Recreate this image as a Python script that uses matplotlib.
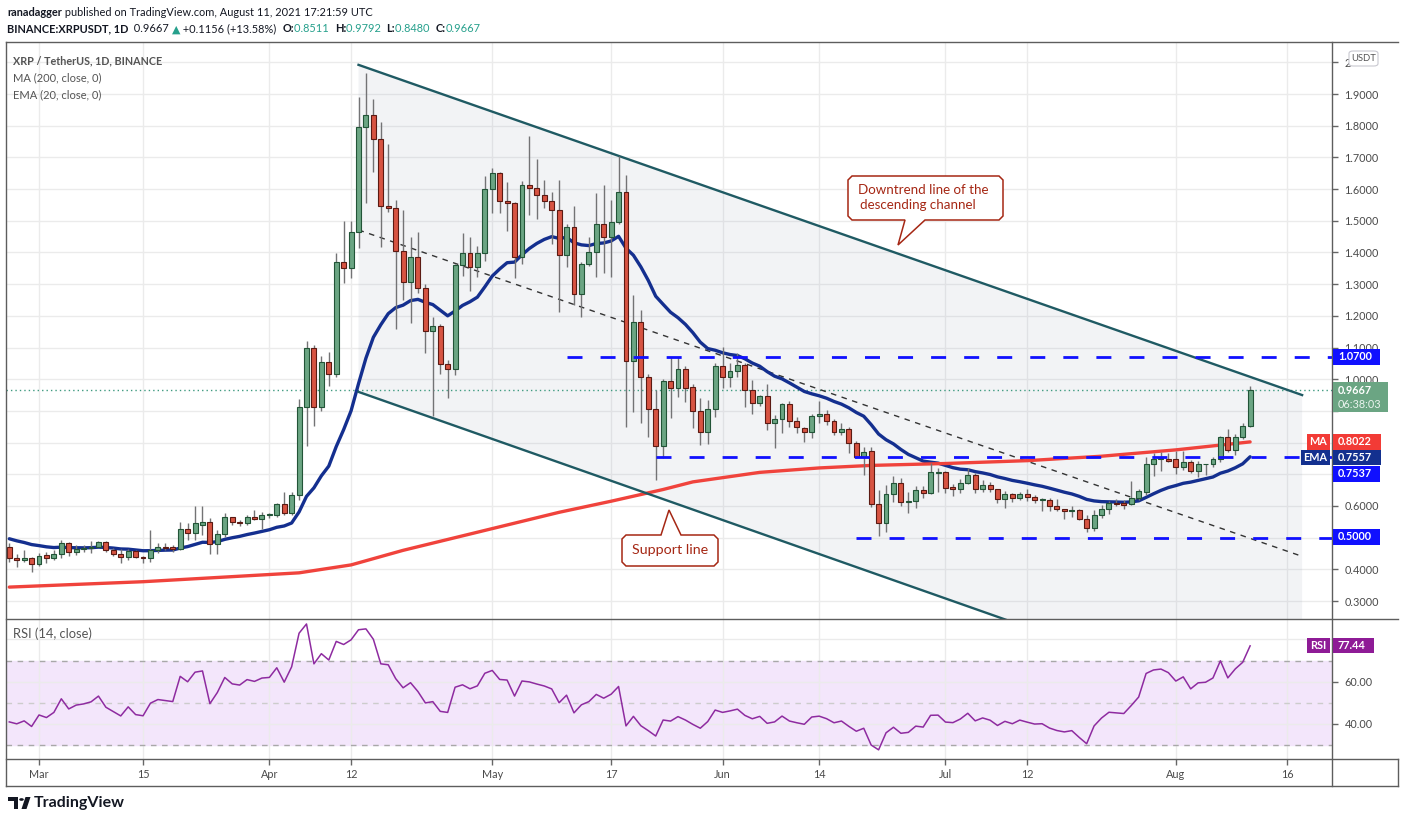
import datetime as dt
import numpy as np
import matplotlib
matplotlib.use("Agg")
import matplotlib.pyplot as plt
import matplotlib.font_manager as fm
from matplotlib.patches import Polygon, Rectangle, FancyBboxPatch, Circle
from matplotlib.lines import Line2D
from matplotlib.ticker import FuncFormatter

W, H = 1401, 823
avail = {f.name for f in fm.fontManager.ttflist}
FONT = next((f for f in ['Lato', 'Roboto', 'Noto Sans'] if f in avail), 'DejaVu Sans')
plt.rcParams['font.family'] = [FONT, 'DejaVu Sans']
plt.rcParams['lines.scale_dashes'] = False

# ---------------- data (daily XRP/USDT, from 2021-02-25) ----------------
first_day = dt.date(2021, 2, 25)

opens = [
    .469, .435, .428, .435,
    .416, .444, .435, .447, .482, .454, .464, .467, .472, .486, .460, .450, .438, .457, .438, .435,
    .461, .469, .469, .465, .526, .516, .541, .549, .479, .511, .564, .549, .545, .564, .560,
    .571, .573, .606, .577, .634, .913, 1.097, .913, 1.055, 1.018, 1.371, 1.350, 1.465, 1.797, 1.834,
    1.757, 1.548, 1.539, 1.406, 1.308, 1.385, 1.289, 1.153, 1.169, 1.049, 1.033, 1.361, 1.399, 1.355, 1.397,
    1.599, 1.650, 1.561, 1.555, 1.387, 1.612, 1.602, 1.580, 1.561, 1.533, 1.391, 1.479, 1.268, 1.362, 1.400,
    1.489, 1.448, 1.495, 1.591, 1.057, 1.180, 1.006, .905, .789, .993, .973, 1.031, .974, .899, .832, .905,
    1.041, 1.008, 1.025, 1.044, .967, .924, .946, .861, .873, .921, .867, .845, .832, .883, .889,
    .867, .832, .842, .798, .756, .772, .605, .545, .638, .671, .611, .616, .650, .642, .705,
    .706, .659, .654, .671, .698, .652, .665, .652, .621, .637, .624, .637, .627, .618, .619,
    .599, .589, .583, .587, .558, .529, .571, .592, .610, .608, .605, .624, .643, .731, .749, .749,
    .747, .724, .739, .711, .731, .733, .747, .817, .777, .817, .8511,
]
highs = [
    .482, .450, .461, .440,
    .452, .456, .461, .493, .487, .476, .476, .490, .489, .489, .466, .464, .464, .461, .442, .524,
    .484, .482, .477, .550, .545, .600, .600, .561, .524, .577, .566, .556, .571, .587, .582,
    .577, .608, .645, .643, .939, 1.120, 1.108, 1.073, 1.085, 1.399, 1.498, 1.498, 1.892, 1.965, 1.884,
    1.812, 1.742, 1.565, 1.534, 1.450, 1.466, 1.300, 1.195, 1.175, 1.060, 1.365, 1.460, 1.448, 1.420, 1.641,
    1.665, 1.655, 1.622, 1.560, 1.624, 1.768, 1.694, 1.629, 1.592, 1.629, 1.490, 1.547, 1.370, 1.448, 1.589,
    1.613, 1.565, 1.704, 1.644, 1.266, 1.218, 1.016, .966, 1.000, 1.071, 1.071, 1.042, .985, .940, .934, 1.050,
    1.103, 1.050, 1.082, 1.050, .997, .950, .985, .887, .924, .930, .880, .848, .890, .931, .903,
    .873, .861, .848, .806, .785, .785, .650, .666, .694, .687, .645, .663, .663, .735, .719,
    .710, .669, .684, .721, .703, .682, .677, .652, .648, .640, .645, .655, .635, .624, .624,
    .621, .592, .600, .589, .571, .587, .603, .617, .621, .619, .679, .655, .753, .768, .771, .768,
    .774, .773, .745, .742, .734, .753, .821, .842, .827, .863, .9792,
]
lows = [
    .424, .408, .424, .393,
    .410, .421, .430, .435, .442, .445, .456, .453, .470, .456, .442, .421, .430, .435, .421, .424,
    .453, .461, .456, .461, .493, .493, .508, .450, .450, .503, .540, .537, .540, .556, .526,
    .561, .566, .572, .571, .619, .789, .852, .900, .979, 1.006, 1.305, 1.318, 1.415, 1.557, 1.653,
    1.418, 1.529, 1.160, 1.250, 1.178, 1.273, 1.083, .884, 1.018, .942, 1.013, 1.326, 1.279, 1.324, 1.374,
    1.523, 1.523, 1.469, 1.318, 1.365, 1.518, 1.505, 1.539, 1.427, 1.213, 1.355, 1.234, 1.197, 1.358, 1.321,
    1.336, 1.324, 1.490, .850, .897, .863, .817, .682, .750, .879, .945, .928, .845, .791, .797, .880,
    .973, .976, 1.008, .913, .890, .916, .840, .782, .829, .848, .831, .803, .815, .861, .856,
    .824, .824, .768, .750, .698, .598, .506, .519, .613, .600, .579, .595, .624, .638, .645,
    .642, .633, .642, .668, .642, .645, .645, .610, .593, .611, .619, .617, .608, .585, .585,
    .585, .560, .566, .556, .519, .521, .563, .575, .600, .589, .603, .619, .635, .696, .711, .738,
    .700, .713, .703, .692, .699, .722, .740, .771, .761, .810, .8480,
]
closes = [
    .435, .428, .435, .416,
    .443, .435, .447, .482, .454, .464, .467, .472, .486, .460, .449, .438, .457, .438, .435, .461,
    .469, .467, .465, .526, .516, .545, .549, .479, .511, .564, .548, .545, .564, .560, .571,
    .573, .606, .577, .635, .913, 1.097, .913, 1.055, 1.018, 1.371, 1.350, 1.465, 1.797, 1.834, 1.757,
    1.548, 1.539, 1.406, 1.308, 1.385, 1.289, 1.153, 1.169, 1.047, 1.033, 1.361, 1.399, 1.355, 1.397, 1.599,
    1.650, 1.561, 1.555, 1.387, 1.612, 1.602, 1.580, 1.561, 1.533, 1.391, 1.479, 1.268, 1.362, 1.400, 1.489,
    1.448, 1.495, 1.591, 1.057, 1.180, 1.006, .905, .789, .993, .973, 1.031, .973, .899, .832, .905, 1.041,
    1.008, 1.025, 1.044, .967, .924, .946, .861, .873, .921, .867, .848, .832, .883, .889, .867,
    .832, .842, .798, .756, .771, .605, .545, .638, .671, .611, .616, .650, .642, .706, .707,
    .658, .654, .671, .698, .652, .665, .652, .621, .637, .624, .637, .627, .618, .619, .600,
    .589, .583, .586, .558, .529, .571, .592, .608, .606, .604, .624, .647, .731, .747, .751, .743,
    .724, .739, .711, .731, .733, .747, .817, .777, .817, .851, .9667,
]

# indicator inputs
ema_seed = 0.503            # EMA(20) value just before the first visible day
prev_close = 0.469          # close of the day before the first visible day
rsi_seed_gain = 0.0105
rsi_seed_loss = 0.0125

ma_dates = ['2021-02-25', '2021-03-15', '2021-04-05', '2021-04-12', '2021-04-19', '2021-04-26',
            '2021-05-03', '2021-05-10', '2021-05-17', '2021-05-24', '2021-05-28', '2021-06-06',
            '2021-06-14', '2021-06-21', '2021-07-01', '2021-07-12', '2021-07-22', '2021-08-01',
            '2021-08-11']
ma_values = [0.344, 0.361, 0.389, 0.414, 0.460, 0.500, 0.540, 0.580, 0.615, 0.652, 0.676, 0.706,
             0.720, 0.728, 0.734, 0.743, 0.757, 0.777, 0.8022]

channel_dates = ['2021-04-13', '2021-08-18']
channel_upper = [1.992, 0.950]
channel_lower = [0.960, -0.088]
trend_dates = ['2021-04-13', '2021-08-18']
trend_values = [1.471, 0.441]

level_values = [1.07, 0.7537, 0.50]
level_starts = ['2021-05-11', '2021-05-23', '2021-06-19']

tick_dates = ['2021-03-01', '2021-03-15', '2021-04-01', '2021-04-12', '2021-05-01', '2021-05-17',
              '2021-06-01', '2021-06-14', '2021-07-01', '2021-07-12', '2021-08-01', '2021-08-16']
tick_labels = ['Mar', '15', 'Apr', '12', 'May', '17', 'Jun', '14', 'Jul', '12', 'Aug', '16']
price_ticks = [0.3, 0.4, 0.5, 0.6, 0.7, 0.8, 0.9, 1.0, 1.1, 1.2, 1.3, 1.4, 1.5, 1.6, 1.7, 1.8, 1.9, 2.0]
covered_price_ticks = [0.5, 0.7, 0.8, 0.9]   # labels hidden behind the value boxes
rsi_ticks = [40, 60, 80]
covered_rsi_ticks = [80]

last_price = 0.9667
ma_last, ema_last, rsi_last = 0.8022, 0.7557, 77.44

# ---------------- helpers ----------------
def day_index(s):
    return (dt.date.fromisoformat(s) - first_day).days

n = len(closes)
xs = np.arange(n)
o, h, l, c = map(np.array, (opens, highs, lows, closes))

fig = plt.figure(figsize=(W / 100, H / 100), dpi=100)
fig.patch.set_facecolor('white')


def fx(px):
    return px / W


def fy(py):
    return 1 - py / H


X0_PX, DAY_PX = 9.3, 7.43
L, R = 6, 1332
TOP, SEP1, SEP2, BOT = 42, 619, 759, 786


def px_to_idx(px):
    return (px - X0_PX) / DAY_PX


def price_at(py):
    return 1.9 - (py - 94) / 316.9


def rsi_at(py):
    return 40 + (724 - py) / 2.115


ax = fig.add_axes([fx(L), fy(SEP1), fx(R) - fx(L), fy(TOP) - fy(SEP1)])
axr = fig.add_axes([fx(L), fy(SEP2), fx(R) - fx(L), fy(SEP1) - fy(SEP2)])
xlim = (px_to_idx(L), px_to_idx(R))
ax.set_xlim(xlim)
axr.set_xlim(xlim)
ax.set_ylim(price_at(SEP1), price_at(TOP))
axr.set_ylim(rsi_at(SEP2), rsi_at(SEP1))

tick_pos = [day_index(d) for d in tick_dates]
for a in (ax, axr):
    for s in a.spines.values():
        s.set_visible(False)
    a.set_xticks(tick_pos)
    a.yaxis.tick_right()
    a.grid(True, color='#ebebeb', lw=1)
    a.set_axisbelow(True)
    a.tick_params(axis='y', length=4, width=1, color='#666666', labelcolor='#4a4a4a',
                  labelsize=7.8, pad=5, direction='out')
ax.tick_params(axis='x', length=0, labelbottom=False)
axr.set_xticklabels(tick_labels)
axr.tick_params(axis='x', length=4, width=1, color='#666666', labelcolor='#4a4a4a',
                labelsize=7.8, pad=3, direction='out')
ax.set_yticks(price_ticks)


def price_fmt(v, p):
    if any(abs(v - t) < 1e-9 for t in covered_price_ticks):
        return ''
    return '2' if abs(v - 2) < 1e-9 else f'{v:.4f}'


ax.yaxis.set_major_formatter(FuncFormatter(price_fmt))
axr.set_yticks(rsi_ticks)
axr.yaxis.set_major_formatter(FuncFormatter(
    lambda v, p: '' if any(abs(v - t) < 1e-9 for t in covered_rsi_ticks) else f'{v:.2f}'))

# ---------------- main pane ----------------
cx = [day_index(d) for d in channel_dates]
ax.add_patch(Polygon([(cx[0], channel_upper[0]), (cx[1], channel_upper[1]),
                      (cx[1], channel_lower[1]), (cx[0], channel_lower[0])], closed=True,
                     fc=(0.55, 0.6, 0.68, 0.11), ec='none', zorder=1))
ax.plot(cx, channel_upper, color='#1f5a63', lw=1.7, zorder=3.5)
ax.plot(cx, channel_lower, color='#1f5a63', lw=1.7, zorder=3.5)
ax.plot([day_index(d) for d in trend_dates], trend_values, color='#333333', lw=1,
        ls=(0, (4, 4)), zorder=2.5)

ax.axhline(last_price, color='#3f9a80', lw=1, ls=(0, (1, 2.2)), zorder=2)

# moving averages
ema = []
e = ema_seed
for v in closes:
    e += (v - e) * 2 / 21
    ema.append(e)
ax.plot(xs, ema, color='#142f8f', lw=2.4, zorder=3, solid_capstyle='round')
ax.plot([day_index(d) for d in ma_dates], ma_values, color='#f0433c', lw=2.4, zorder=3,
        solid_capstyle='round')

# candles
up = c >= o
ax.vlines(xs, l, h, color='#737375', lw=1, zorder=4)
body_lo = np.minimum(o, c)
body_h = np.maximum(np.abs(c - o), 0.0025)
ax.bar(xs[up], body_h[up], bottom=body_lo[up], width=0.66, color='#6ba583',
       edgecolor='#225437', lw=0.8, zorder=5)
ax.bar(xs[~up], body_h[~up], bottom=body_lo[~up], width=0.66, color='#d75442',
       edgecolor='#5b1a13', lw=0.8, zorder=5)

# horizontal levels
for lvl, st in zip(level_values, level_starts):
    ax.plot([day_index(st), xlim[1]], [lvl, lvl], color='#1010ff', lw=2.0,
            ls=(0, (10.8, 13)), zorder=7, solid_capstyle='butt', dash_capstyle='butt')

# ---------------- RSI pane ----------------
ag, al = rsi_seed_gain, rsi_seed_loss
pc = prev_close
rsi = []
for v in closes:
    ch = v - pc
    ag = (ag * 13 + max(ch, 0)) / 14
    al = (al * 13 + max(-ch, 0)) / 14
    rsi.append(100 - 100 / (1 + ag / al))
    pc = v
axr.axhspan(30, 70, color='#f3e6fb', zorder=0.3)
axr.axhline(70, color='#a8a8a8', lw=1, ls=(0, (4, 4)), zorder=1)
axr.axhline(50, color='#cccccc', lw=1, ls=(0, (4, 4)), zorder=1)
axr.axhline(30, color='#a8a8a8', lw=1, ls=(0, (4, 4)), zorder=1)
axr.plot(xs, rsi, color='#8e2ba0', lw=1.1, zorder=3)

# ---------------- frame ----------------
FR = '#5d5d5d'


def hline(y, x0, x1):
    fig.add_artist(Line2D([fx(x0), fx(x1)], [fy(y), fy(y)], color=FR, lw=1, zorder=4))


def vline(x, y0, y1):
    fig.add_artist(Line2D([fx(x), fx(x)], [fy(y0), fy(y1)], color=FR, lw=1, zorder=4))


hline(TOP, L, 1398)
hline(SEP1, L, 1398)
hline(SEP2, L, 1398)
hline(BOT, L, 1398)
vline(L, TOP, BOT)
vline(R, TOP, BOT)
vline(1398, SEP2, BOT)

# ---------------- right-axis labels ----------------


def box(x0, x1, y0, y1, color):
    fig.add_artist(Rectangle((fx(x0), fy(y1)), fx(x1) - fx(x0), (y1 - y0) / H,
                             transform=fig.transFigure, fc=color, ec='none', zorder=5))


def btext(x, y, s, color='white', weight='bold', size=7.8, ha='left'):
    fig.text(fx(x), fy(y), s, color=color, fontsize=size, fontweight=weight,
             va='center', ha=ha, zorder=6)


BLUE = '#1010ff'
box(1333, 1380, 349, 365, BLUE); btext(1338, 357, f'{level_values[0]:.4f}')
box(1333, 1388, 382, 412, '#6ba583'); btext(1338, 390, f'{last_price:.4f}')
btext(1338, 404, '06:38:03', color='#eaf4ee', weight='normal')
box(1307, 1330, 434, 450, '#f23b36'); btext(1318.5, 442, 'MA', ha='center')
box(1333, 1381, 434, 450, '#f23b36'); btext(1338, 442, f'{ma_last:.4f}')
box(1301, 1330, 450, 465, '#13308f'); btext(1315.5, 457.5, 'EMA', ha='center')
box(1333, 1381, 450, 465, '#13308f'); btext(1338, 457.5, f'{ema_last:.4f}')
box(1333, 1380, 466, 482, BLUE); btext(1338, 474, f'{level_values[1]:.4f}')
box(1333, 1380, 529, 545, BLUE); btext(1338, 537, f'{level_values[2]:.4f}')
box(1307, 1330, 638, 653, '#8e1b96'); btext(1318.5, 645.5, 'RSI', ha='center')
box(1333, 1374, 638, 653, '#8e1b96'); btext(1338, 645.5, f'{rsi_last:.2f}')
fig.add_artist(FancyBboxPatch((fx(1349), fy(66)), fx(1378) - fx(1349), 15 / H,
                              boxstyle='round,pad=0,rounding_size=0.003',
                              transform=fig.transFigure, fc='white', ec='#c8c8d0', lw=0.8, zorder=5))
btext(1363.5, 58.5, 'USDT', color='#555555', weight='normal', size=6.8, ha='center')

# ---------------- texts ----------------
renderer = fig.canvas.get_renderer()


def fit(s, x0, x1, yc, color, weight='normal', base=9.0, ha='left'):
    t = fig.text(fx(x0 if ha == 'left' else (x0 + x1) / 2), fy(yc), s, color=color,
                 fontsize=base, fontweight=weight, va='center', ha=ha, zorder=7)
    wpx = t.get_window_extent(renderer).width
    if wpx > 0:
        t.set_fontsize(base * (x1 - x0) / wpx)
    return t


def seq(parts, x0, yc, size):
    """place text pieces one after another on one line"""
    x = x0
    for s, color, weight in parts:
        t = fig.text(fx(x), fy(yc), s, color=color, fontsize=size, fontweight=weight,
                     va='center', ha='left', zorder=7, family=[FONT, 'DejaVu Sans'])
        x += t.get_window_extent(renderer).width


DARK = '#131722'
TEAL = '#26a08c'
hs = 7.9
seq([('ranadagger', DARK, 'bold'),
     (' published on TradingView.com, August 11, 2021 17:21:59 UTC', DARK, 'normal')], 7, 13, hs)
seq([('BINANCE:XRPUSDT, 1D', DARK, 'bold'), ('  0.9667 ', DARK, 'normal'),
     ('▲', TEAL, 'normal'), (' +0.1156 (+13.58%)  ', DARK, 'normal'),
     ('O:', DARK, 'bold'), ('0.8511  ', TEAL, 'normal'),
     ('H:', DARK, 'bold'), ('0.9792  ', TEAL, 'normal'),
     ('L:', DARK, 'bold'), ('0.8480  ', TEAL, 'normal'),
     ('C:', DARK, 'bold'), ('0.9667', TEAL, 'normal')], 7, 29, hs)

LEG = '#555555'
fit('XRP / TetherUS, 1D, BINANCE', 13, 162, 61, LEG, 'bold')
fit('MA (200, close, 0)', 13, 101, 78, LEG)
fit('EMA (20, close, 0)', 13, 101, 95, LEG)
fit('RSI (14, close)', 13, 92, 634, LEG)

# callouts
RED = '#a52714'
call1 = [(852, 176), (999, 176), (1003, 180), (1003, 216), (999, 220), (925, 220), (898, 245),
         (905, 220), (852, 220), (848, 216), (848, 180)]
call2 = [(626, 535), (661, 535), (669, 510), (681, 535), (714, 535), (718, 539), (718, 562),
         (714, 566), (626, 566), (622, 562), (622, 539)]
for pts in (call1, call2):
    fig.add_artist(Polygon([(fx(x), fy(y)) for x, y in pts], closed=True, transform=fig.transFigure,
                           fc='white', ec=RED, lw=1.1, zorder=6))
fit('Downtrend line of the', 858, 989, 190, RED, ha='center')
fit('descending channel', 860, 976, 205, RED, ha='center')
fit('Support line', 632, 708, 550, RED, ha='center')

# TradingView footer logo
LOGO = '#131722'
fig.add_artist(Polygon([(fx(x), fy(y)) for x, y in [(8, 797), (18, 797), (18, 809), (13.5, 809),
                                                      (13.5, 801), (8, 801)]],
                       closed=True, transform=fig.transFigure, fc=LOGO, ec='none', zorder=6))
fig.add_artist(Circle((fx(21.5), fy(799.5)), 2.3 / W, transform=fig.transFigure, fc=LOGO,
                      ec='none', zorder=6))
fig.add_artist(Polygon([(fx(x), fy(y)) for x, y in [(25.5, 797), (30.5, 797), (26.5, 809),
                                                      (21.5, 809)]],
                       closed=True, transform=fig.transFigure, fc=LOGO, ec='none', zorder=6))
fit('TradingView', 34, 125, 803, LOGO, 'bold')

fig.savefig('out.png', dpi=100, facecolor='white')
